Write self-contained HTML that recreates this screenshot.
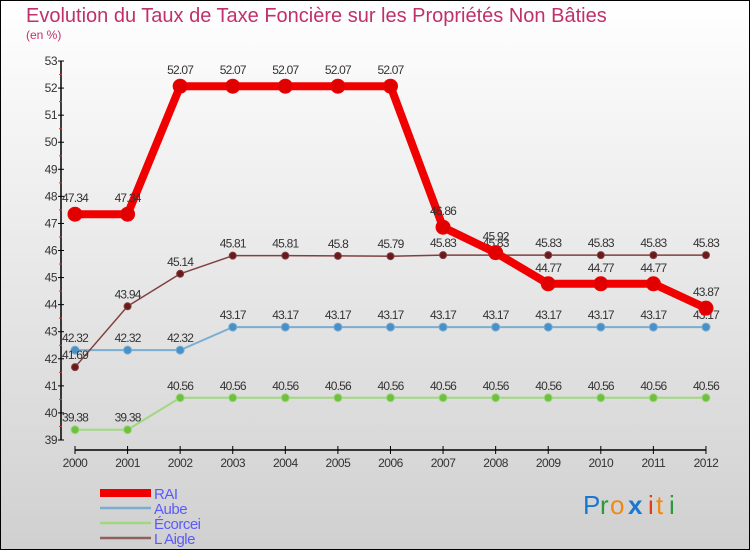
<!DOCTYPE html>
<html><head><meta charset="utf-8"><style>
html,body{margin:0;padding:0}
body{width:750px;height:550px;overflow:hidden;font-family:"Liberation Sans",sans-serif}
</style></head><body>
<svg width="750" height="550" xmlns="http://www.w3.org/2000/svg">
<defs><linearGradient id="bg" x1="0" y1="0" x2="0" y2="1"><stop offset="0" stop-color="#ffffff"/><stop offset="1" stop-color="#d0d0d0"/></linearGradient></defs>
<rect x="0.5" y="0.5" width="749" height="549" fill="url(#bg)" stroke="#000"/>
<text x="26" y="22" font-size="20" fill="#c0306a">Evolution du Taux de Taxe Foncière sur les Propriétés Non Bâties</text>
<text x="26" y="39" font-size="12" fill="#c0306a">(en %)</text>
<g id="axes"></g>
<g id="series"></g>
<g id="legend"></g>
<g font-size="26" font-family="Liberation Sans, sans-serif">
<text x="583" y="514" fill="#1a78d0">P</text><text x="600" y="514" fill="#2a9a3a">r</text><text x="610" y="514" fill="#f08a10">o</text><text x="628" y="514" fill="#1a78d0" font-weight="bold">x</text><text x="648" y="514" fill="#e83a10">i</text><text x="656" y="514" fill="#f08a10">t</text><text x="669" y="514" fill="#2a9a3a">i</text>
</g>
</svg>
<script>
const years=[2000,2001,2002,2003,2004,2005,2006,2007,2008,2009,2010,2011,2012];
const rai=[47.34,47.34,52.07,52.07,52.07,52.07,52.07,46.86,45.92,44.77,44.77,44.77,43.87];
const aube=[42.32,42.32,42.32,43.17,43.17,43.17,43.17,43.17,43.17,43.17,43.17,43.17,43.17];
const ecorcei=[39.38,39.38,40.56,40.56,40.56,40.56,40.56,40.56,40.56,40.56,40.56,40.56,40.56];
const aigle=[41.69,43.94,45.14,45.81,45.81,45.8,45.79,45.83,45.83,45.83,45.83,45.83,45.83];
const yTicks=[39,40,41,42,43,44,45,46,47,48,49,50,51,52,53];
const NS="http://www.w3.org/2000/svg";
const xS=i=>75+i*52.58;
const yS=v=>440-(v-39)*27.07;
function mk(t,a,p){const e=document.createElementNS(NS,t);for(const k in a)e.setAttribute(k,a[k]);p.appendChild(e);return e;}
const ax=document.getElementById('axes');
mk('line',{x1:61,y1:yS(53),x2:61,y2:yS(39),stroke:'#000','stroke-width':1.5},ax);
mk('line',{x1:75,y1:450,x2:706,y2:450,stroke:'#000','stroke-width':1.5},ax);
yTicks.forEach(v=>{
 mk('line',{x1:58,y1:yS(v),x2:64,y2:yS(v),stroke:'#000'},ax);
 if(v<53)mk('line',{x1:59,y1:yS(v+0.5),x2:62,y2:yS(v+0.5),stroke:'#e03030'},ax);
 const t=mk('text',{x:57,y:yS(v)+4,'text-anchor':'end','font-size':12,fill:'#333','letter-spacing':'-0.5'},ax);t.textContent=v;
 
 
});
years.forEach((y,i)=>{
 mk('line',{x1:xS(i),y1:446,x2:xS(i),y2:454,stroke:'#000'},ax);
 const t=mk('text',{x:xS(i),y:467,'text-anchor':'middle','font-size':12,fill:'#333','letter-spacing':'-0.5'},ax);t.textContent=y;
 
 
});
const sg=document.getElementById('series');
function series(data,name,color,w,r,fill,labOff){
 const g=mk('g',{},sg);
 
 
 mk('polyline',{points:data.map((v,i)=>xS(i)+','+yS(v)).join(' '),fill:'none',stroke:color,'stroke-width':w,'stroke-linejoin':'round'},g);
 data.forEach((v,i)=>{
  const c=mk('circle',{cx:xS(i),cy:yS(v),r:r,fill:fill,stroke:color,'stroke-width':1},g);
  
  
  const t=mk('text',{x:xS(i),y:yS(v)+labOff,'text-anchor':'middle','font-size':12,fill:'#333','letter-spacing':'-0.8'},g);t.textContent=v;
  
  
 });
}
series(ecorcei,'ecorcei','#a0d880',2,4,'#70c040',-8);
series(aube,'aube','#7aaed0',2,4,'#4a90c8',-8);
series(aigle,'aigle','#804040',1.5,3.5,'#6a1a1a',-8);
series(rai,'rai','#f00000',8,7,'#e00000',-12);
const lg=document.getElementById('legend');
const items=[['RAI','#f00000',8],['Aube','#7aaed0',2.5],['Écorcei','#a0d880',2.5],['L  Aigle','#906060',2.5]];
items.forEach((it,i)=>{
 const y=493+i*15;
 const g=mk('g',{},lg);
 
 
 mk('line',{x1:100,y1:y,x2:151,y2:y,stroke:it[1],'stroke-width':it[2]},g);
 const t=mk('text',{x:154,y:y+6,'font-size':15,fill:'#5a5aff','letter-spacing':'-0.5'},g);t.textContent=it[0];
 
 
});
</script>
</body></html>
